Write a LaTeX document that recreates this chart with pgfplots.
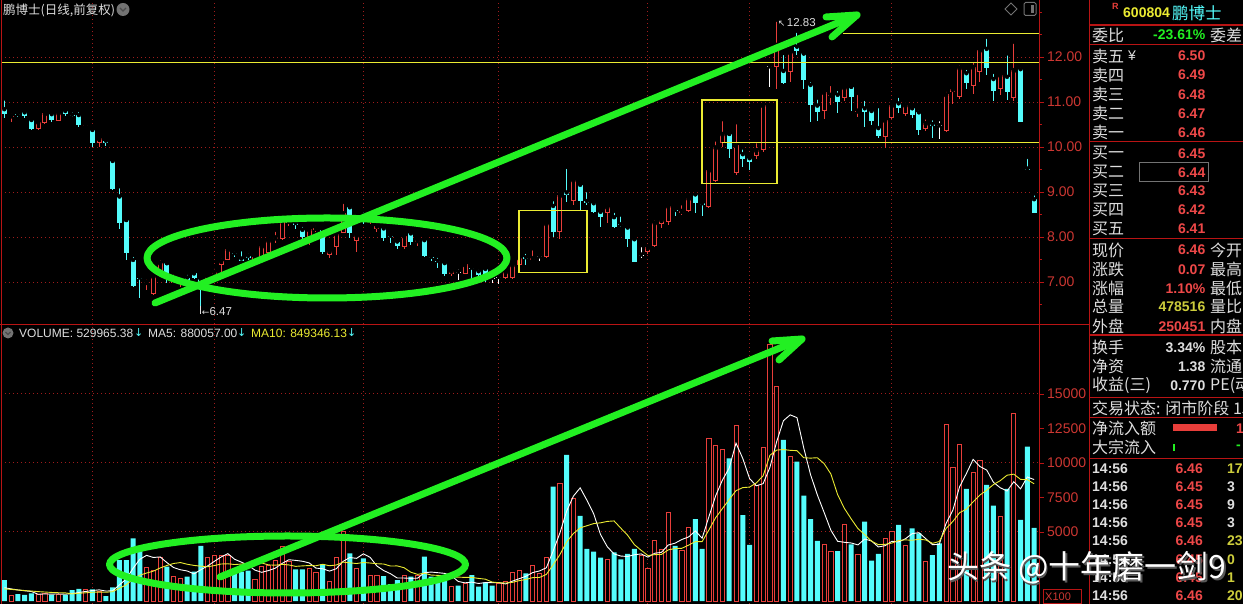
\documentclass[border=0pt]{standalone}
\usepackage{fontspec}
\setmainfont{Liberation Sans}
\newfontfamily\cjk{Noto Sans CJK SC}
\newfontfamily\dejavu{DejaVu Sans}
\usepackage{pgfplots}
\pgfplotsset{compat=1.18}
\usepackage{pgfplotstable}

\definecolor{kred}{RGB}{232,62,58}
\definecolor{kcyan}{RGB}{84,252,252}
\definecolor{kgrid}{RGB}{160,28,28}
\definecolor{kborder}{RGB}{185,20,20}
\definecolor{klabel}{RGB}{205,55,50}
\definecolor{kyel}{RGB}{235,235,50}
\definecolor{kgreen}{RGB}{34,240,34}
\definecolor{ktext}{RGB}{222,222,222}
\definecolor{kval}{RGB}{238,72,72}
\definecolor{kolive}{RGB}{205,205,60}
\definecolor{kicon}{RGB}{115,115,115}

% daily bars: open high low close, t = 1 up / 2 down / 0 flat,
% volume (x100 shares), vt = volume bar colour, 5- and 10-day volume averages
\pgfplotstableread{
i o h l c t v vt ma5 ma10
0 10.84 11.08 10.64 10.73 2 1520 2 960 880
1 10.68 10.78 10.56 10.70 1 435 1 880 840
2 10.73 10.81 10.67 10.72 2 507 2 800 800
3 10.77 10.80 10.64 10.68 2 435 2 740 760
4 10.60 10.69 10.38 10.40 2 555 2 690 720
5 10.39 10.62 10.38 10.56 1 507 1 488 680
6 10.54 10.80 10.51 10.75 1 555 1 512 650
7 10.73 10.80 10.56 10.60 2 435 2 497 620
8 10.58 10.80 10.57 10.76 1 507 1 512 600
9 10.80 10.85 10.69 10.73 2 435 2 488 590
10 10.72 10.82 10.67 10.71 2 797 2 546 517
11 10.71 10.82 10.45 10.50 2 870 2 609 560
12 10.48 10.58 10.48 10.50 1 845 1 691 594
13 10.38 10.45 10.01 10.10 2 845 2 758 635
14 10.10 10.19 10.01 10.19 1 676 1 807 647
15 10.14 10.16 10.03 10.08 2 362 2 720 633
16 9.69 9.75 9.04 9.06 2 990 2 744 676
17 8.90 9.13 8.17 8.32 2 2970 2 1169 930
18 8.38 8.38 7.49 7.65 2 2970 2 1594 1176
19 7.49 7.60 6.90 6.91 2 4540 2 2366 1587
20 7.10 7.17 6.64 7.06 2 3620 2 3018 1869
21 6.98 7.10 6.82 7.00 1 2440 1 3308 2026
22 6.73 7.13 6.71 7.13 1 2200 1 3154 2161
23 7.21 7.53 7.19 7.43 1 3170 1 3194 2394
24 7.42 7.42 6.98 7.16 2 2490 2 2784 2575
25 6.98 7.21 6.97 7.04 1 1810 1 2422 2720
26 7.00 7.10 6.90 7.05 1 1640 1 2262 2785
27 7.10 7.21 6.99 7.03 2 1760 2 2174 2664
28 7.19 7.26 7.06 7.10 2 2120 2 1964 2579
29 7.06 7.07 6.47 6.98 2 3990 2 2264 2524
30 7.01 7.16 6.99 7.12 1 3170 1 2536 2479
31 7.18 7.34 7.14 7.23 1 3330 1 2874 2568
32 7.38 7.56 7.19 7.47 1 3330 1 3188 2681
33 7.49 7.81 7.49 7.73 1 3330 1 3430 2697
34 7.64 7.73 7.56 7.63 2 1960 2 3024 2644
35 7.52 7.73 7.46 7.46 2 2120 2 2814 2675
36 7.58 7.67 7.49 7.54 2 2200 2 2588 2731
37 7.42 7.58 7.40 7.56 1 1570 1 2236 2712
38 7.56 7.86 7.56 7.80 1 2540 1 2078 2754
39 7.65 8.00 7.64 7.92 1 2610 1 2208 2616
40 7.95 8.16 7.86 7.99 1 2970 1 2378 2596
41 7.95 8.47 7.93 8.36 1 3930 1 2724 2656
42 8.32 8.47 8.25 8.36 1 2900 1 2990 2613
43 8.31 8.36 8.18 8.27 2 2300 2 2942 2510
44 8.16 8.27 7.93 7.99 2 2300 2 2880 2544
45 7.99 8.22 7.82 8.17 1 2370 1 2760 2569
46 8.16 8.29 8.11 8.20 1 2050 1 2384 2554
47 8.16 8.20 7.62 7.67 2 2660 2 2336 2663
48 7.60 7.73 7.53 7.69 1 1450 1 2166 2554
49 7.77 8.16 7.60 8.07 1 3170 1 2340 2610
50 8.08 8.78 8.08 8.53 1 5020 1 2870 2815
51 8.66 8.71 7.98 8.08 2 3450 2 3150 2767
52 7.91 8.04 7.66 8.04 1 2370 1 3092 2714
53 8.50 8.60 8.30 8.38 2 3090 2 3420 2793
54 8.36 8.45 8.30 8.40 1 1880 1 3162 2751
55 8.18 8.33 8.11 8.25 1 1880 1 2534 2702
56 8.19 8.22 7.91 7.97 2 1810 2 2206 2678
57 8.03 8.11 7.87 8.00 2 1230 2 1978 2535
58 7.90 7.96 7.74 7.79 2 1520 2 1664 2542
59 7.77 8.07 7.73 8.03 1 1880 1 1664 2413
60 8.08 8.10 7.82 7.90 2 1760 2 1640 2087
61 7.89 7.98 7.80 7.93 1 1880 1 1654 1930
62 7.93 7.96 7.56 7.58 2 3210 2 2050 2014
63 7.56 7.64 7.46 7.53 2 1760 2 2098 1881
64 7.47 7.58 7.31 7.44 2 1640 2 2050 1857
65 7.42 7.44 7.13 7.18 2 1520 2 2002 1821
66 7.18 7.29 7.13 7.25 1 1040 1 1834 1744
67 7.22 7.33 7.05 7.22 0 1110 2 1414 1732
68 7.18 7.40 7.18 7.39 1 1280 1 1318 1708
69 7.32 7.33 7.06 7.30 2 1880 2 1366 1708
70 7.24 7.33 7.13 7.16 2 1040 2 1270 1636
71 7.29 7.31 7.00 7.16 2 1350 2 1332 1583
72 7.08 7.16 6.97 7.08 0 1110 2 1332 1373
73 7.10 7.20 6.96 7.10 0 1280 1 1332 1325
74 7.08 7.27 7.06 7.23 1 1400 1 1236 1301
75 7.08 7.42 7.06 7.38 1 2050 1 1438 1354
76 7.38 7.56 7.36 7.54 1 2240 1 1616 1474
77 7.55 7.67 7.38 7.51 2 2000 2 1794 1563
78 7.49 7.75 7.46 7.53 1 2610 1 2060 1696
79 7.56 7.65 7.47 7.56 0 2000 1 2180 1708
80 7.56 8.34 7.53 8.30 1 3170 1 2404 1921
81 8.69 8.84 8.01 8.12 2 8280 2 3612 2614
82 8.12 8.98 7.95 8.93 1 8530 1 4918 3356
83 8.99 9.56 8.78 8.93 2 10580 2 6512 4286
84 8.81 9.34 8.71 9.27 1 7440 1 7600 4890
85 9.16 9.19 8.60 8.81 2 6160 2 8198 5301
86 8.80 9.04 8.71 8.76 2 3770 2 7296 5454
87 8.75 8.82 8.53 8.56 2 3580 2 6306 5612
88 8.56 8.62 8.22 8.45 2 3140 2 4818 5665
89 8.53 8.73 8.32 8.67 1 3020 1 3934 5767
90 8.44 8.58 8.19 8.23 2 3530 2 3408 5803
91 8.28 8.50 8.23 8.26 2 3020 2 3258 5277
92 8.21 8.23 7.77 7.95 2 3410 2 3224 4765
93 7.95 7.96 7.44 7.45 2 3770 2 3350 4084
94 7.60 7.82 7.53 7.60 0 3330 1 3412 3673
95 7.67 7.78 7.62 7.77 1 2370 1 3180 3294
96 7.80 8.42 7.78 8.32 1 4420 1 3460 3359
97 8.30 8.44 8.19 8.38 1 3740 1 3526 3375
98 8.34 8.77 8.27 8.69 1 6430 1 4058 3704
99 8.60 8.67 8.47 8.57 2 3990 2 4190 3801
100 8.53 8.75 8.49 8.58 1 3700 1 4456 3818
101 8.58 8.93 8.56 8.86 1 5340 1 4640 4050
102 8.95 8.95 8.54 8.76 2 5940 2 5080 4303
103 8.75 8.76 8.47 8.71 2 3770 2 4548 4303
104 8.66 9.52 8.64 9.49 1 11790 1 6108 5149
105 9.25 10.17 9.23 9.99 1 11300 1 7628 6042
106 10.10 10.62 10.01 10.29 1 11010 1 8762 6701
107 10.29 10.30 9.75 9.95 2 10340 2 9642 7361
108 9.42 10.55 9.38 10.04 1 12750 1 11438 7993
109 9.84 9.99 9.55 9.73 2 6230 2 10326 8217
110 9.75 9.82 9.50 9.67 2 4060 2 8878 8253
111 9.81 10.13 9.73 9.93 1 8360 1 8348 8555
112 9.93 10.93 9.90 10.93 1 11110 1 8502 9072
113 11.78 11.86 11.34 11.78 0 18620 1 9676 10557
114 11.78 12.83 11.30 12.27 1 15580 1 11546 10936
115 11.69 12.09 11.40 11.43 2 11670 2 13068 10973
116 11.66 12.13 11.45 12.10 1 10460 1 13488 10918
117 12.23 12.58 12.04 12.13 2 10100 2 13286 10894
118 12.08 12.08 11.29 11.50 2 7630 2 11088 10382
119 11.38 11.49 10.56 10.93 2 5940 2 9160 10353
120 10.92 11.10 10.58 10.78 2 4350 2 7696 10382
121 10.81 11.26 10.62 11.22 1 4100 1 6424 9956
122 11.13 11.40 10.93 11.16 1 3620 1 5128 9207
123 11.16 11.29 10.75 10.99 2 3620 2 4326 7707
124 11.08 11.38 11.03 11.32 1 5580 1 4254 6707
125 11.34 11.34 10.81 11.12 2 4100 2 4204 5950
126 10.79 11.20 10.66 10.81 1 3410 1 4066 5245
127 10.86 11.07 10.45 10.78 2 5750 2 4492 4810
128 10.80 10.84 10.48 10.58 2 2920 2 4352 4339
129 10.42 10.91 10.20 10.25 2 3410 2 3918 4086
130 10.23 10.60 9.98 10.60 1 4540 1 4006 4105
131 10.65 10.98 10.62 10.93 1 5020 1 4328 4197
132 10.97 11.14 10.75 10.86 2 5510 2 4280 4386
133 10.73 11.03 10.69 10.93 1 4060 1 4508 4430
134 10.86 10.92 10.64 10.71 2 5270 2 4880 4399
135 10.77 10.86 10.27 10.38 2 4900 2 4952 4479
136 10.39 10.66 10.35 10.53 1 2850 1 4518 4423
137 10.51 10.64 10.20 10.46 2 3330 2 4082 4181
138 10.47 10.62 10.18 10.47 0 4180 2 4106 4307
139 10.36 11.27 10.33 11.17 1 12830 1 5618 5249
140 11.23 11.36 10.96 11.29 1 9660 1 6570 5761
141 11.12 11.86 11.07 11.76 1 11380 1 8276 6397
142 11.64 11.76 11.29 11.42 2 8120 2 9234 6658
143 11.36 11.93 11.18 11.78 1 9330 1 10264 7185
144 11.66 12.20 11.45 12.16 1 10220 1 9742 7680
145 12.18 12.45 11.60 11.76 2 8410 2 9492 8031
146 11.51 11.67 11.02 11.24 2 6910 2 8598 8437
147 11.30 11.64 11.16 11.60 1 6160 1 8206 8720
148 11.56 12.08 11.04 11.23 2 8120 2 7964 9114
149 11.10 12.34 11.02 11.71 1 13600 1 8640 9191
150 11.73 11.82 10.56 10.56 2 5870 2 8132 8812
151 9.52 9.78 9.50 9.50 2 11180 2 8986 8792
152 8.84 8.97 8.54 8.54 2 5299.65 2 8800.57 8493.46
}\kdata

\pgfplotsset{
  only/.style 2 args={restrict expr to domain={\thisrow{#1}}{#2}},
  stick/.style={only marks, mark=none, forget plot,
      error bars/y dir=minus, error bars/y explicit, error bars/error mark=none},
  panel/.style={scale only axis, width=1038pt, xmin=-0.487, xmax=152.72,
      axis line style={draw=none},
      xtick={13,31,53,73,95,110,131}, xticklabels={},
      xtick style={draw=none},
      ytick pos=right, yticklabel pos=right, tick align=outside,
      major tick length=5pt, minor tick length=3pt,
      ytick style={kborder, line width=0.8pt},
      xmajorgrids, ymajorgrids,
      major grid style={kgrid, line width=1pt, dash pattern=on 1.2pt off 2.8pt},
      /pgf/number format/assume math mode=true,
      yticklabel style={text=klabel, font=\fontsize{14}{14}\selectfont, inner sep=0pt, xshift=3pt},
      clip=true},
}

\newcommand{\plab}[2]{\node[anchor=west,inner sep=0pt,text=ktext,font=\cjk\fontsize{16}{16}\selectfont] at (1092pt,604pt-#1pt) {#2};}
\newcommand{\pval}[3]{\node[anchor=east,inner sep=0pt,text=#3,font=\bfseries\fontsize{14}{14}\selectfont] at (1205.5pt,604pt-#1pt) {#2};}
\newcommand{\prl}[2]{\node[anchor=west,inner sep=0pt,text=ktext,font=\cjk\fontsize{16}{16}\selectfont] at (1210pt,604pt-#1pt) {#2};}
\newcommand{\tick}[4]{%
  \node[anchor=west,inner sep=0pt,text=ktext,font=\bfseries\fontsize{14}{14}\selectfont] at (1092pt,604pt-#1pt) {14:56};
  \node[anchor=east,inner sep=0pt,text=kval,font=\bfseries\fontsize{14}{14}\selectfont] at (1203pt,604pt-#1pt) {#2};
  \node[anchor=west,inner sep=0pt,text=#4,font=\bfseries\fontsize{14}{14}\selectfont] at (1227pt,604pt-#1pt) {#3};}

\begin{document}
\begin{tikzpicture}[x=1pt,y=1pt]
\fill[black] (0,0) rectangle (1243,604);

% ---------------- price panel ----------------
\begin{axis}[panel, at={(1pt,280pt)}, anchor=south west, height=324pt,
  ymin=6.067, ymax=13.267,
  ytick={7,8,9,10,11,12}, minor ytick={6.5,7.5,8.5,9.5,10.5,11.5,12.5,13},
  yticklabel style={/pgf/number format/fixed, /pgf/number format/fixed zerofill,
    /pgf/number format/precision=2}]
  % wicks
  \addplot[stick, only={t}{0.5:1.5}, error bars/error bar style={kred, line width=1pt}]
    table[x=i, y=h, y error expr=\thisrow{h}-\thisrow{l}]{\kdata};
  \addplot[stick, only={t}{1.5:2.5}, error bars/error bar style={kcyan, line width=1pt}]
    table[x=i, y=h, y error expr=\thisrow{h}-\thisrow{l}]{\kdata};
  \addplot[stick, only={t}{-0.5:0.5}, error bars/error bar style={white, line width=1pt}]
    table[x=i, y=h, y error expr=\thisrow{h}-\thisrow{l}]{\kdata};
  % rising bodies: red outline, hollow
  \addplot[stick, only={t}{0.5:1.5}, error bars/error bar style={kred, line width=5pt}]
    table[x=i, y=c, y error expr={max(\thisrow{c}-\thisrow{o},0.022)}]{\kdata};
  \addplot[stick, only={t}{0.5:1.5}, error bars/error bar style={black, line width=3pt}]
    table[x=i, y expr=\thisrow{c}-0.022, y error expr={max(\thisrow{c}-\thisrow{o}-0.044,0)}]{\kdata};
  % falling bodies: filled cyan
  \addplot[stick, only={t}{1.5:2.5}, error bars/error bar style={kcyan, line width=5pt}]
    table[x=i, y=o, y error expr={max(\thisrow{o}-\thisrow{c},0.022)}]{\kdata};
  % unchanged: white cross
  \addplot[stick, only={t}{-0.5:0.5}, error bars/error bar style={white, line width=5pt}]
    table[x=i, y expr=\thisrow{c}+0.011, y error expr=0.022]{\kdata};
  % extreme price markers
  \draw[ktext, line width=0.8pt] (axis cs:29,6.47) -- ++(0pt,-8pt);
  \node[anchor=west, inner sep=0pt, text=ktext, font=\fontsize{11.5}{11.5}\selectfont]
    at ([xshift=1pt,yshift=-6pt]axis cs:29,6.47) {{\dejavu\fontsize{9}{9}\selectfont ←}6.47};
  \node[anchor=west, inner sep=0pt, text=ktext, font=\fontsize{11.5}{11.5}\selectfont]
    at ([xshift=1pt,yshift=-3pt]axis cs:114,12.83) {{\dejavu\fontsize{9}{9}\selectfont ↖\,}12.83};
\end{axis}

% ---------------- volume panel ----------------
\begin{axis}[panel, at={(1pt,0pt)}, anchor=south west, height=279pt,
  ymin=-217, ymax=20000,
  ytick={5000,10000,15000}, extra y ticks={7500,12500},
  extra y tick style={grid=none},
  scaled y ticks=false,
  yticklabel style={/pgf/number format/fixed, /pgf/number format/1000 sep={}}]
  \addplot[ybar, bar width=4.2pt, bar shift=0pt, draw=kred, fill=black, line width=0.8pt,
    only={vt}{0.5:1.5}] table[x=i, y=v]{\kdata};
  \addplot[ybar, bar width=5pt, bar shift=0pt, fill=kcyan, draw=none,
    only={vt}{1.5:2.5}] table[x=i, y=v]{\kdata};
  \addplot[white, line width=0.9pt, mark=none] table[x=i, y=ma5]{\kdata};
  \addplot[kyel, line width=0.9pt, mark=none] table[x=i, y=ma10]{\kdata};
\end{axis}

% ---------------- frame lines ----------------
\draw[kborder, line width=1.2pt] (1.5,0) -- (1.5,604);
\draw[kborder, line width=1.2pt] (1039.5,0) -- (1039.5,604);
\draw[kborder, line width=1.2pt] (1089.5,0) -- (1089.5,604);
\draw[kborder, line width=1.2pt] (0,604-324.5) -- (1089.5,604-324.5);
\foreach \yy in {25,44.3,141.7,238.3,335,397.3,417.5,458.3}
  \draw[kborder, line width=1.2pt] (1089.5,604-\yy) -- (1243,604-\yy);

% support / resistance lines and boxes
\draw[kyel, line width=1.1pt] (1.5,604-62.3) -- (1039,604-62.3);
\draw[kyel, line width=1.1pt] (843,604-33.3) -- (1039,604-33.3);
\draw[kyel, line width=1.1pt] (722,604-142.3) -- (1039,604-142.3);
\draw[kyel, line width=1.1pt] (519,604-210.7) rectangle (587,604-272.3);
\draw[kyel, line width=1.1pt] (702,604-100) rectangle (777,604-183.3);

% panel headers
\node[anchor=west, inner sep=0pt, text=ktext, font=\cjk\fontsize{12.5}{12.5}\selectfont]
  at (3,604-10) {鹏博士(日线,前复权)};
\fill[kicon] (123,604-9.5) circle (6.5pt);
\draw[black!70, line width=1.3pt] (120,604-8) -- (123,604-11) -- (126,604-8);
\draw[kicon, line width=1pt] (1011,604-3) -- (1017,604-9) -- (1011,604-15) -- (1005,604-9) -- cycle;
\draw[kicon, line width=1pt, rounded corners=1.5pt] (1024,604-2.5) rectangle (1036,604-15.5);
\fill[kicon] (1031,604-5) rectangle (1034,604-13);

\fill[kicon] (8,604-333) circle (5.5pt);
\draw[black!70, line width=1.2pt] (5.5,604-332) -- (8,604-334.5) -- (10.5,604-332);
\node[anchor=west, inner sep=0pt, text=ktext, font=\fontsize{12}{12}\selectfont] at (19,604-333) {VOLUME: 529965.38};
\node[anchor=west, inner sep=0pt, text=kcyan, font=\dejavu\fontsize{11}{11}\selectfont] at (134,604-333) {↓};
\node[anchor=west, inner sep=0pt, text=ktext, font=\fontsize{12}{12}\selectfont] at (148,604-333) {MA5: 880057.00};
\node[anchor=west, inner sep=0pt, text=kcyan, font=\dejavu\fontsize{11}{11}\selectfont] at (237,604-333) {↓};
\node[anchor=west, inner sep=0pt, text=kyel, font=\fontsize{12}{12}\selectfont] at (251,604-333) {MA10: 849346.13};
\node[anchor=west, inner sep=0pt, text=kcyan, font=\dejavu\fontsize{11}{11}\selectfont] at (347,604-333) {↓};

\draw[kborder, line width=1pt] (1043,0.5) rectangle (1081,604-590);
\node[anchor=west, inner sep=0pt, text=klabel, font=\fontsize{11}{11}\selectfont] at (1045,604-597) {X100};

% ---------------- quote panel ----------------
\node[anchor=west, inner sep=0pt, text=kred, font=\bfseries\fontsize{9}{9}\selectfont] at (1112,604-6) {R};
\node[anchor=west, inner sep=0pt, text=kyel, font=\bfseries\fontsize{14}{14}\selectfont] at (1123,604-13) {600804};
\node[anchor=west, inner sep=0pt, text=kcyan, font=\cjk\fontsize{16.5}{16.5}\selectfont] at (1172,604-13) {鹏博士};

\plab{35}{委比}\pval{35}{-23.61\%}{kgreen}\prl{35}{委差}
\plab{56}{卖五}\node[anchor=west,inner sep=0pt,text=ktext,font=\fontsize{14}{14}\selectfont] at (1128,604-56) {¥};
\pval{56}{6.50}{kval}
\plab{75}{卖四}\pval{75}{6.49}{kval}
\plab{94.3}{卖三}\pval{94.3}{6.48}{kval}
\plab{113.3}{卖二}\pval{113.3}{6.47}{kval}
\plab{132.3}{卖一}\pval{132.3}{6.46}{kval}
\plab{153.3}{买一}\pval{153.3}{6.45}{kval}
\plab{172.3}{买二}\pval{172.3}{6.44}{kval}
\draw[kicon, line width=1pt] (1139,604-163) rectangle (1208,604-181.5);
\plab{191}{买三}\pval{191}{6.43}{kval}
\plab{210}{买四}\pval{210}{6.42}{kval}
\plab{229}{买五}\pval{229}{6.41}{kval}
\plab{250}{现价}\pval{250}{6.46}{kval}\prl{250}{今开}
\plab{269.3}{涨跌}\pval{269.3}{0.07}{kval}\prl{269.3}{最高}
\plab{288.3}{涨幅}\pval{288.3}{1.10\%}{kval}\prl{288.3}{最低}
\plab{306.7}{总量}\pval{306.7}{478516}{kolive}\prl{306.7}{量比}
\plab{326.7}{外盘}\pval{326.7}{250451}{kval}\prl{326.7}{内盘}
\plab{347.3}{换手}\pval{347.3}{3.34\%}{ktext}\prl{347.3}{股本}
\plab{366.7}{净资}\pval{366.7}{1.38}{ktext}\prl{366.7}{流通}
\plab{385.5}{收益(三)}\pval{385.5}{0.770}{ktext}\prl{385.5}{PE(动}
\plab{408.3}{交易状态: 闭市阶段 15}
\plab{428.3}{净流入额}
\fill[kred] (1173,604-431.5) rectangle (1217,604-424.5);
\node[anchor=west, inner sep=0pt, text=kval, font=\bfseries\fontsize{14}{14}\selectfont] at (1236,604-428.3) {1};
\plab{447.7}{大宗流入}
\fill[kgreen] (1173,604-451) rectangle (1175,604-444);
\node[anchor=west, inner sep=0pt, text=kgreen, font=\bfseries\fontsize{14}{14}\selectfont] at (1236,604-447.7) {-};
\tick{468.3}{6.46}{17}{kolive}
\tick{486.7}{6.45}{3}{ktext}
\tick{504.8}{6.45}{9}{ktext}
\tick{522.7}{6.45}{3}{ktext}
\tick{540.8}{6.46}{23}{kolive}
\tick{559.3}{6.45}{0}{kolive}
\tick{577.3}{6.45}{1}{kolive}
\tick{595.3}{6.46}{20}{kolive}

% ---------------- hand-drawn highlights ----------------
\begin{scope}[kgreen, line width=7pt, line cap=round, line join=round]
  \draw (327,604-258) ellipse [x radius=180pt, y radius=40pt];
  \draw (155,604-303) -- (857,604-15);
  \draw (826,604-17) -- (857,604-15) -- (832,604-37);
  \draw (287.5,604-564.5) ellipse [x radius=178pt, y radius=28.5pt];
  \draw (220,604-577) -- (802,604-339);
  \draw (772,604-341) -- (802,604-339) -- (779,604-360);
\end{scope}

% watermark
\node[anchor=west, inner sep=0pt, text=black!65, font=\cjk\fontsize{32}{32}\selectfont] at (948.5,604-569.5) {头条 @十年磨一剑9};
\node[anchor=west, inner sep=0pt, text=white, font=\cjk\fontsize{32}{32}\selectfont] at (947,604-568) {头条 @十年磨一剑9};

\pgfresetboundingbox
\useasboundingbox (0,0) rectangle (1243,604);
\end{tikzpicture}
\end{document}
